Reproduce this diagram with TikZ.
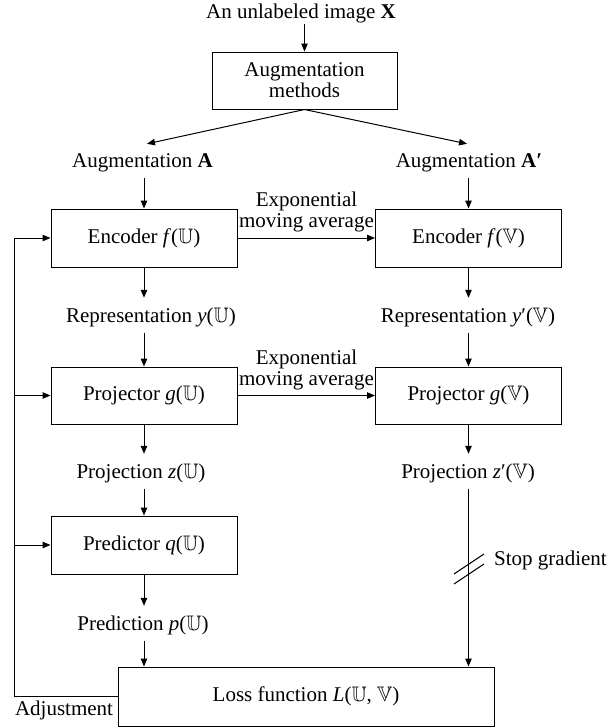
\documentclass[tikz,border=0pt]{standalone}
\usepackage{amssymb}
\usepackage{fontspec}
\setmainfont{Liberation Serif}
\usetikzlibrary{arrows.meta}

\newcommand{\bbU}{\ensuremath{\mathbb{U}}}
\newcommand{\bbV}{\ensuremath{\mathbb{V}}}

\tikzset{
  base/.style={font=\fontsize{21}{21}\selectfont},
  blockbox/.style={base, draw, line width=1pt, inner sep=0pt, minimum width=186pt, align=center},
  lbl/.style={base, inner xsep=2pt, inner ysep=5pt, text height=14pt, text depth=5pt},
  arr/.style={line width=1pt, -{Triangle[length=8pt,width=6.5pt]}},
  totext/.style={shorten >=5.5pt},
  wire/.style={line width=1pt}
}

\begin{document}
\begin{tikzpicture}[x=1pt,y=-1pt]
\useasboundingbox (0,0) rectangle (608,728);

% input and augmentation
\node[lbl, inner ysep=0pt] (title) at (301,14) {An unlabeled image \textbf{X}};
\node[blockbox, minimum width=185pt, minimum height=57pt] (aug) at (304.5,80.5) {Augmentation\\methods};
\node[lbl] (augA) at (142.5,163) {Augmentation \textbf{A}};
\node[lbl] (augB) at (469,163) {Augmentation \textbf{A′}};

% online branch
\node[blockbox, minimum height=58pt] (encU) at (144,238) {Encoder \textit{f}(\bbU)};
\node[lbl] (repU) at (151,318) {Representation \textit{y}(\bbU)};
\node[blockbox, minimum height=57pt] (projU) at (144,395.5) {Projector \textit{g}(\bbU)};
\node[lbl] (prjU) at (141,474) {Projection \textit{z}(\bbU)};
\node[blockbox, minimum height=58pt] (predU) at (144,545) {Predictor \textit{q}(\bbU)};
\node[lbl] (predT) at (143,626) {Prediction \textit{p}(\bbU)};

% target branch
\node[blockbox, minimum height=58pt] (encV) at (468.5,238) {Encoder \textit{f}(\bbV)};
\node[lbl] (repV) at (468,318) {Representation \textit{y}′(\bbV)};
\node[blockbox, minimum height=57pt] (projV) at (468.5,395.5) {Projector \textit{g}(\bbV)};
\node[lbl] (prjV) at (468,474) {Projection \textit{z}′(\bbV)};

% loss
\node[blockbox, minimum width=376pt, minimum height=59pt] (loss) at (306,696.5) {Loss function \textit{L}(\bbU, \bbV)};

% side labels
\node[base, align=center, inner sep=0pt] (ema1) at (306.5,212) {Exponential\\moving average};
\node[base, align=center, inner sep=0pt] (ema2) at (306.5,370) {Exponential\\moving average};
\node[lbl, inner ysep=0pt] (adj) at (64,711) {Adjustment};
\node[lbl, inner ysep=0pt] (stopg) at (550.5,561) {Stop gradient};

% connectors: top
\draw[arr] (title.south -| aug.north) -- (aug.north);
\draw[arr] (aug.south) -- ([xshift=4.5pt,yshift=4.5pt]augA.north);
\draw[arr] (aug.south) -- ([xshift=-2pt,yshift=4.5pt]augB.north);
\draw[arr] (augA.south -| encU.north) -- (encU.north);
\draw[arr] (augB.south -| encV.north) -- (encV.north);

% connectors: online branch
\draw[arr, totext] (encU.south) -- (repU.north -| encU.south);
\draw[arr] (repU.south -| projU.north) -- (projU.north);
\draw[arr, totext] (projU.south) -- (prjU.north -| projU.south);
\draw[arr] (prjU.south -| predU.north) -- (predU.north);
\draw[arr, totext] (predU.south) -- (predT.north -| predU.south);
\draw[arr] (predT.south -| predU.south) -- (loss.north -| predU.south);

% connectors: target branch
\draw[arr, totext] (encV.south) -- (repV.north -| encV.south);
\draw[arr] (repV.south -| projV.north) -- (projV.north);
\draw[arr, totext] (projV.south) -- (prjV.north -| projV.south);
\draw[arr] (prjV.south -| projV.south) -- (loss.north -| projV.south);

% moving-average updates
\draw[arr] (encU.east) -- (encV.west);
\draw[arr] (projU.east) -- (projV.west);

% stop-gradient mark
\coordinate (sg) at (469,564);
\draw[wire] ([shift={(-15,10)}]sg) -- ([shift={(15,-10)}]sg);
\draw[wire] ([shift={(-15,20)}]sg) -- ([shift={(15,0)}]sg);

% feedback from the loss
\coordinate (fb) at (14,0);
\draw[arr] (loss.west) -| (fb |- encU.west) -- (encU.west);
\draw[arr] (fb |- projU.west) -- (projU.west);
\draw[arr] (fb |- predU.west) -- (predU.west);
\end{tikzpicture}
\end{document}
